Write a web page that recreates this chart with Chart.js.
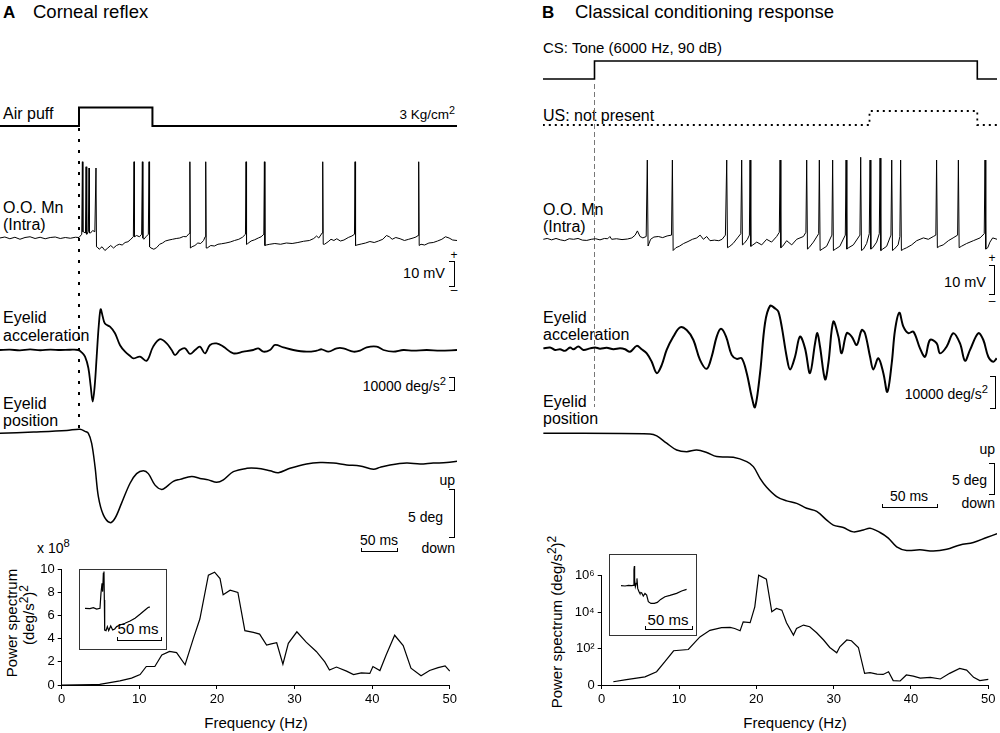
<!DOCTYPE html>
<html>
<head>
<meta charset="utf-8">
<script src="https://cdn.jsdelivr.net/npm/chart.js@4.4.0/dist/chart.umd.min.js"></script>
<style>
  body { margin: 0; background: #fff; }
  #fig { position: relative; width: 1000px; height: 733px; overflow: hidden; background: #fff;
         font-family: "Liberation Sans", Arial, sans-serif; color: #000; }
  #fig canvas { position: absolute; }
  .t { position: absolute; font-size: 16px; line-height: 1; white-space: nowrap; transform: translateY(-50%); }
  .r { transform: translate(-100%, -50%); }
  .c { transform: translate(-50%, -50%); }
  .sm { font-size: 14px; }
  .s { font-size: 0.8em; position: relative; top: -0.5em; }
  .rot { transform: translate(-50%, -50%) rotate(-90deg); font-size: 15px; }
  .brk { position: absolute; border: 1px solid #000; border-left: none; width: 5px; }
  .msbar { position: absolute; border: 1px solid #000; border-top: none; height: 3px; }
  .box { position: absolute; border: 1px solid #333; }
</style>
</head>
<body>
<div id="fig">
  <!-- titres -->
  <div class="t" style="left:3px;top:12px;font-weight:bold;font-size:17px">A</div>
  <div class="t" style="left:33px;top:12px;font-size:18.5px">Corneal reflex</div>
  <div class="t" style="left:542px;top:12px;font-weight:bold;font-size:17px">B</div>
  <div class="t" style="left:575px;top:12px;font-size:18.5px">Classical conditioning response</div>

  <!-- A : libellés -->
  <div class="t" style="left:3px;top:114px">Air puff</div>
  <div class="t r" style="left:455px;top:115px;font-size:13.5px">3 Kg/cm<span class="s">2</span></div>
  <div class="t" style="left:3px;top:208px">O.O. Mn</div>
  <div class="t" style="left:3px;top:225px">(Intra)</div>
  <div class="t r" style="left:445px;top:273px;font-size:14.5px">10 mV</div>
  <div class="t c" style="left:454px;top:255px;font-size:12px">+</div>
  <div class="t c" style="left:454px;top:290px;font-size:12px">–</div>
  <div class="brk" style="left:449px;top:261px;height:24px"></div>
  <div class="t" style="left:3px;top:318px">Eyelid</div>
  <div class="t" style="left:3px;top:336px">acceleration</div>
  <div class="t r sm" style="left:446px;top:386px">10000 deg/s<span class="s">2</span></div>
  <div class="brk" style="left:449px;top:377px;height:12px"></div>
  <div class="t" style="left:3px;top:404px">Eyelid</div>
  <div class="t" style="left:3px;top:421px">position</div>
  <div class="t r sm" style="left:455px;top:480px">up</div>
  <div class="t r sm" style="left:443px;top:517px">5 deg</div>
  <div class="t r sm" style="left:455px;top:548px">down</div>
  <div class="brk" style="left:449px;top:489px;height:47px"></div>
  <div class="t c sm" style="left:379px;top:540px">50 ms</div>
  <div class="msbar" style="left:361px;top:548px;width:35px"></div>
  <div class="t sm" style="left:37px;top:548px">x 10<span class="s">8</span></div>
  <div class="t rot" style="left:11px;top:623px">Power spectrum</div>
  <div class="t rot" style="left:28px;top:615px">(deg/s<span class="s">2</span>)<span class="s">2</span></div>
  <div class="t c" style="left:256px;top:722px;font-size:15px">Frequency (Hz)</div>
  <div class="box" style="left:79px;top:569px;width:86px;height:79px"></div>
  <div class="t c" style="left:138px;top:628px;font-size:15px">50 ms</div>
  <div class="msbar" style="left:117px;top:637px;width:43px"></div>
  <div style="position:absolute;left:78px;top:128px;width:2px;height:305px;
       background:repeating-linear-gradient(to bottom,#000 0 3px,transparent 3px 11px)"></div>

  <!-- B : libellés -->
  <div class="t" style="left:543px;top:47px;font-size:15px">CS: Tone (6000 Hz, 90 dB)</div>
  <div class="t" style="left:543px;top:116px">US: not present</div>
  <div class="t" style="left:543px;top:210px">O.O. Mn</div>
  <div class="t" style="left:543px;top:227px">(Intra)</div>
  <div class="t r" style="left:986px;top:282px;font-size:14.5px">10 mV</div>
  <div class="t c" style="left:992px;top:258px;font-size:12px">+</div>
  <div class="t c" style="left:992px;top:301px;font-size:12px">–</div>
  <div class="brk" style="left:989px;top:265px;height:28px"></div>
  <div class="t" style="left:543px;top:318px">Eyelid</div>
  <div class="t" style="left:543px;top:335px">acceleration</div>
  <div class="t r sm" style="left:988px;top:394px">10000 deg/s<span class="s">2</span></div>
  <div class="brk" style="left:990px;top:376px;height:31px"></div>
  <div class="t" style="left:543px;top:402px">Eyelid</div>
  <div class="t" style="left:543px;top:419px">position</div>
  <div class="t r sm" style="left:995px;top:449px">up</div>
  <div class="t r sm" style="left:987px;top:480px">5 deg</div>
  <div class="t r sm" style="left:995px;top:503px">down</div>
  <div class="brk" style="left:989px;top:463px;height:30px"></div>
  <div class="t c sm" style="left:909px;top:496px">50 ms</div>
  <div class="msbar" style="left:882px;top:504px;width:54px"></div>
  <div class="t rot" style="left:556px;top:622px">Power spectrum (deg/s<span class="s">2</span>)<span class="s">2</span></div>
  <div class="t c" style="left:795px;top:722px;font-size:15px">Frequency (Hz)</div>
  <div class="box" style="left:609px;top:554px;width:86px;height:80px"></div>
  <div class="t c" style="left:668px;top:619px;font-size:15px">50 ms</div>
  <div class="msbar" style="left:645px;top:626px;width:46px"></div>
  <div style="position:absolute;left:594px;top:84px;width:1px;height:323px;
       background:repeating-linear-gradient(to bottom,#777 0 5px,transparent 5px 8px)"></div>
</div>

<script>
// ---- A : réflexe cornéen (temps en ms depuis le début du souffle) ----
var puffA_t = [-110, 0, 0, 102, 102, 525];
var puffA_v = [0, 0, 1, 1, 0, 0];

var intraA_t = [-110, -103, -96, -89, -82, -75, -68, -61, -54, -47, -40, -33, -26, -19, -12, -5, 0, 3.8, 6, 9, 11, 13, 16, 19, 22,
  25, 28, 32, 36, 40, 44, 48, 52, 56, 60, 64, 68, 72, 75.5, 80, 84, 87, 90, 93, 96.3, 100, 104, 108, 112, 116, 120, 125, 130,
  135, 140, 145, 149, 153, 157, 161, 165, 169, 173, 175.2, 178, 183, 188, 193, 198, 204, 210, 216, 222, 227, 231.2, 234, 239,
  244, 249, 253, 256.7, 260, 265, 272, 280, 288, 296, 304, 312, 320, 326, 330, 333, 337.7, 341, 346, 350, 354, 358, 363, 368,
  374, 379, 382.6, 386, 392, 398, 404, 410, 416, 422, 427, 431, 435, 440, 446, 452, 458, 464, 468, 471, 475, 480, 486, 492,
  498, 504, 509, 514, 519, 525];
var intraA_v = [0, 0.4, -0.3, 0.3, -0.5, 0.2, 0.5, -0.2, 0.3, -0.3, 0.2, 0.4, -0.2, 0.2, -0.1, 0.3, 0.2, 1.5, 2.5, 2, 1.5, 2.5, 2, 3, 2.5,
  -3.5, -4.5, -3.5, -5, -4, -3, -4, -3, -2.5, -2.8, -1.8, -1.5, -0.5, 0.5, 1, 0.5, 1.5, -0.5, 0.5, 1.5, -4, -4.5, -3.8, -2.5, -2, -1.2, -0.8, -0.5,
  -0.2, 0, 0.6, 0.5, 1.8, -3.5, -3, -2, -2.2, -1, 0.5, -4, -3, -3.2, -2.5, -2.3, -2, -1.6, -1, -0.5, 0.3, 1.5, -2.3, -1.2,
  -0.7, 0, 0.5, 1.5, -2.8, -2.5, -2.2, -2.5, -2, -2.2, -1.8, -1.3, -1, -0.2, 0.8, 0, 2, -2.5, -1.5, -0.5, -1, -0.3, -1.2, -0.8,
  0.2, 0.8, 1.5, -2.8, -2.4, -2, -1.4, -1.8, -1.2, -0.5, 1, 0.5, -0.5, 0.2, -0.3, -1, -0.5, 0, 0.4, 1, -2.5, -2.8, -2, -1.8,
  -1.2, -0.5, 0.5, 0, -0.8, -1];
var spikeA_t = [4.7, 9.8, 13.9, 23.6, 76.4, 88, 97.3, 154, 176, 232, 257.5, 338.5, 383.4, 471.8];
var spikeA_peak = [30.5, 28.5, 28, 28, 30.5, 30.5, 30.5, 30.5, 30.5, 30.5, 30.5, 30.5, 30.5, 30.5];
var spikeA_post = [2.5, 1.5, 2, -3.5, 0.5, 0, -3.5, -4, -4, -2.5, -3, -2.5, -3, -3];

var accA_t = [-110, -96, -82, -68, -54, -40, -26, -12.5, -1, 3.7, 8.4, 13, 16.2, 19, 21.8, 24.6, 27.4, 30.1, 32.9, 36, 43, 50, 57,
  64, 71, 75.5, 84.8, 94, 103, 112.5, 121.8, 128.7, 133.4, 140.3, 147.3, 154.2, 161.2, 168, 175, 182, 191, 200.5, 214.4, 228.3,
  242, 249, 256, 265.3, 272.3, 283.8, 297.7, 316, 330, 337, 346.4, 358, 367, 381, 390.3, 399.6, 413.5, 422.8, 436.6, 450.5,
  464.4, 483, 501.5, 525];
var accA_v = [0, 0.3, -0.3, 0.5, -0.2, 0.3, 0, 0.2, 0, -2, -5.5, -15, -30, -43, -30, -5, 20, 34, 28, 22, 19.4, 14, 4,
  -1.4, -5, -7, -5.5, -9, 2.8, 9, 5.5, 0, -4.2, 0, 1.4, -3.3, 0, 2.8, -2.8, 4.2, 5.5, 2.8, -2.8, -1.4,
  0, 1.4, -1.4, 0, 4.2, 2.2, 0, -1.4, -0.6, 0.6, -1.4, 1.4, 1.4, -1.4, -0.6, 2.2, 2.8, 0, -1.4, 0,
  -0.6, 0, -0.6, 0];

var posA_t = [-110, -63, -17, 1.4, 8.4, 13, 17.6, 22.3, 26.9, 33.8, 43, 50, 59, 70.9, 80, 89.4, 96.3, 105.6, 114.9, 121.8, 131,
  140.3, 156.5, 168, 179.7, 191.2, 200.5, 214.4, 233, 246.8, 265.3, 276.9, 293, 316, 334.8, 353.3, 371.8, 390.3, 408.9,
  418, 432, 455, 473.7, 492, 510.7, 525];
var posA_v = [0, 0.14, 0.3, 0.42, 0.2, 0, -1.04, -3.5, -6.6, -8.5, -9.3, -8.85, -7.3, -5.2, -4.2, -3.9, -4.2, -5.4, -5.85, -5.55, -5,
  -4.8, -4.5, -4.7, -4.85, -5.1, -4.85, -4, -3.65, -3.65, -3.9, -4.1, -3.65, -3.2, -3.05, -3.1, -3.3, -3.4, -3.75,
  -3.55, -3.3, -3.1, -3.2, -3.1, -3.05, -2.9];

var specA_hz = [0, 2, 4, 4.9, 6.2, 7.5, 9, 10.1, 10.9, 12, 12.9, 13.9, 14.8, 15.9, 17, 17.8, 18.9, 19.7, 20.4, 20.8, 21.7, 22.7,
  23.6, 24.7, 25.5, 26.4, 27, 27.7, 28.5, 29.2, 30.3, 31.5, 32.8, 33.9, 34.5, 35.4, 36.7, 37.6, 38.6, 39.7, 40.1, 41, 41.8,
  42.9, 44, 45, 46.3, 47.4, 48.5, 49.4, 50];
var specA_val = [0, 0.01, 0.04, 0.06, 0.2, 0.35, 0.6, 0.9, 1.6, 1.6, 2.6, 2.9, 2.8, 1.75, 4.1, 5.7, 9.5, 9.75, 9.2, 7.8, 8.2, 8.0,
  4.7, 4.55, 4.4, 3.45, 3.55, 3.65, 1.8, 3.6, 4.6, 3.7, 2.9, 2.0, 1.3, 1.55, 1.2, 0.9, 1.05, 1.0, 1.6, 1.25, 2.6,
  4.3, 3.4, 1.45, 0.8, 1.25, 1.5, 1.65, 1.2];
var specA_ticksY = [0, 2, 4, 6, 8, 10];

var insetA_t = [0, 5.6, 9.4, 13.2, 16.9, 18, 19.2, 19.9, 20.7, 21.4, 21.8, 22.2, 23.7, 25.2, 26.7, 29, 31.2, 33.5, 35.7, 39.5,
  45.1, 50.8, 56.4, 62, 67.7, 71.4, 73.3];
var insetA_v = [0, -0.3, 0.7, -0.7, 0, 15, 25, 16.7, 35, 36.7, 8.3, -21.7, -22.3, -18.3, -22.3, -17.7, -21.7, -20.7, -18.3, -16.7,
  -15, -12.7, -10, -6, -1.7, 1, 1.3];

// ---- B : réponse conditionnée (temps en ms depuis le début du son) ----
var toneB_t = [-47, 0, 0, 348, 348, 366];
var toneB_v = [0, 0, 1, 1, 0, 0];
var usB_t = [-47, 250, 250, 348, 348, 366];
var usB_v = [0, 0, 1, 1, 0, 0];

var intraB_t = [-46.5, -43, -39, -35, -31, -27, -23, -19, -15, -11, -7, -3, 1, 5, 9, 12, 14, 15.6, 20, 25, 30, 34, 37, 39, 41.4,
  44, 47, 51, 54, 58, 62, 66, 70, 74, 77, 81, 85, 89, 93, 96, 99, 102, 105, 109, 113, 116, 119, 123, 126, 130, 133, 136,
  139, 140.8, 144, 147.5, 152, 156.5, 161, 165.6, 168, 171, 174.7, 179.3, 183.8, 189.9, 192.2, 195, 199, 203.8, 207,
  211, 215.8, 219, 223, 228, 231, 235.3, 241.3, 244.5, 247.4, 249.8, 253, 256.5, 258.9, 262, 265.6, 269.5, 272.5,
  276, 277.6, 281, 283.8, 288.3, 292.9, 299, 303.5, 308, 310.3, 313.5, 317, 321.7, 326, 330.1, 333.5, 338.3, 344.4,
  350.5, 354.3, 357.5, 359.5, 362, 366];
var intraB_v = [0, 0.3, -0.2, 0.3, -0.2, -0.5, 0.2, 0, 0.3, -0.3, -0.4, 0, 0.2, -0.2, 0.3, 0.2, 1, 0, 0.2, -0.1, 0.1, 0.5, 1.5, 3, 1,
  0.5, 1, 0, 0.8, 1, 0.6, 1.2, 1.5, -3, -2.5, -1.5, -0.8, 0, 0.5, 1.5, 0, 1, -0.5, -0.3, -0.5, 0, 1.5, -2.5, -1.5, 0.5, 2, -1.5,
  0, 1.5, -2, -1, -2, 0, -1, 1, 2.5, -2.5, -0.5, -2, 0, 1, 2.5, -3, -1, 2, -3.5,
  -2.5, 1.5, -3.5, -2.5, 1.5, -3, -2, 1.5, -3.5, -1.5, 2, -3, -1, 2, -3.5, -2.5, 1.5, -3.5,
  -2, 1, -3.5, -3, -2, -0.5, 0.5, 0, 1, 1.5, -2.5, -2, -0.5, 0.5, 1.5, -2.5, -1.5, -0.5,
  0.5, 2, -3, -1, 0.5, 0];
var spikeB_t = [48, 70.8, 120.2, 133.8, 141.4, 168.7, 192.9, 204.4, 216.5, 228.7, 242, 250.5, 259.6, 270.2, 278.3, 311, 330.8, 355];
var spikeB_peak = [28.3, 28.3, 28.3, 28.3, 28.3, 28.3, 28.3, 28.3, 28.3, 28.3, 29.3, 28.3, 29, 28.3, 28.3, 28.3, 28.3, 28.3];
var spikeB_post = [-2.4, -4, -3, -2, -2.5, -3, -3.5, -4, -4, -3.5, -4, -3.5, -4, -4, -4, -3, -3, -3.5];

var accB_t = [-46.5, -40.4, -35.9, -31.3, -26.8, -22.2, -19.2, -14.7, -10.1, -4, 0.5, 5, 11.1, 17.2, 23.2, 27.8, 32.3, 38.4, 42.9,
  47.5, 52, 56.6, 61.1, 65.6, 71.7, 77.8, 83.8, 89.9, 95.9, 102, 106.5, 111.1, 115, 119.6, 124.7, 129.3, 133.8, 138.4,
  142.9, 145.9, 150.5, 155, 159.6, 164.1, 167.1, 170.2, 174.7, 177.8, 182.3, 186.8, 191.4, 195.9, 200.5, 202.6, 205,
  209.6, 212.6, 217.1, 221.7, 224.7, 229.3, 233.8, 238.4, 242.9, 245.9, 250.5, 253.5, 258, 262.6, 266.2, 270.2, 273.2,
  277.1, 280.8, 285.3, 289.9, 295.9, 300.5, 305, 311.1, 314.1, 320.2, 326.2, 332.3, 336.8, 341.4, 348.9, 353.5, 358,
  362.6, 365.6];
var accB_v = [0.3, 0.6, -0.2, 0, -0.5, 0.6, 0, 0.9, -0.2, 0.3, 0.6, 0.2, 0.5, 0, 0.3, 0, -0.8, 1.1, 0,
  -1.3, -4, -7.7, -5.1, -0.2, 4.1, 7.1, 6.2, 3, -3.4, -6.3, -2.4, 4.1, 6.6, 4.1, -1.8, -3.1, -2.9, -7.7,
  -15.3, -18.7, -7.7, 8.4, 14, 13.2, 12.2, 7.3, -2.4, -6.5, -2.4, 4.1, 0.3, -7.7, 1.9, 5.2, 0.9,
  -9.7, -4.5, 8.9, 4.1, -1.3, 5.2, 4.1, 1.4, 6.2, 5.2, -2.4, -6.5, -2.9, -7.7, -13.7, -4.5, 6.2,
  11.8, 7.3, 5.2, 5.7, 0.3, -2.4, 3, 1.9, -1.3, 0.9, 5.2, 1.9, -3.7, -0.2, 5.2, 3, -2.4,
  -4, -2.9];

var posB_t = [-46.5, 50.5, 56.6, 65.6, 74.7, 83.8, 92.9, 102, 111.1, 126.2, 138.4, 144.4, 150.5, 156.5, 165.6, 174.7, 183.8,
  192.9, 202, 211.1, 217.1, 226.2, 235.3, 244.4, 250.5, 259.6, 267.1, 274.7, 283.8, 295.9, 308, 320.2, 332.3, 344.4,
  356.5, 366];
var posB_v = [0, -0.1, -0.43, -1.6, -2.7, -2.96, -2.7, -3.1, -3.76, -3.87, -4.57, -5.38, -7.26, -8.7, -10.2, -10.9, -11.3,
  -12.1, -12.6, -14, -14.8, -15.2, -15.9, -15.6, -15.3, -16, -16.9, -18.3, -18.9, -18.8, -19, -18.7, -18, -17.6,
  -16.8, -16.2];

// spectre B : exposants (log10 de la puissance)
var specB_hz = [1.5, 3.2, 5.6, 7.1, 8.2, 9.3, 11.2, 12.7, 14, 15.5, 16.6, 17.2, 17.9, 18.3, 19.2, 19.8, 20.3, 21.3, 22, 22.6, 23.3,
  23.9, 24.8, 25.2, 26.1, 26.9, 27.8, 28.7, 29.5, 30.4, 30.8, 31.7, 32.3, 33.2, 34, 34.7, 35.6, 36.4, 37.1, 37.7, 38.6,
  39.4, 40.3, 41.2, 42.5, 43.8, 45, 46.3, 47.2, 48.1, 48.9, 50];
var specB_log = [0.18, 0.3, 0.45, 0.73, 1.3, 1.88, 1.95, 2.64, 3.0, 3.15, 3.16, 3.1, 2.98, 3.47, 3.42, 4.29, 6.03, 5.81, 4.02, 4.2, 4.11,
  3.42, 2.74, 3.1, 3.29, 3.2, 2.87, 2.47, 2.06, 1.77, 2.1, 2.47, 2.43, 2.06, 0.64, 0.68, 0.6, 0.58, 0.73, 0.24, 0.22,
  0.55, 0.49, 0.38, 0.42, 0.33, 0.64, 0.91, 0.82, 0.42, 0.24, 0.31];
var specB_ticksY = [1, 100, 10000, 1000000];
var specB_tickLbl = ['0', '10²', '10⁴', '10⁶'];

var insetB_t = [0, 4.3, 7.9, 11.4, 13.2, 13.9, 14.3, 14.6, 15.4, 16.4, 17.1, 17.9, 19.3, 20.3, 22.1, 23.9, 25.7, 27.5, 29.3, 32.1,
  35.7, 38.9, 42.5, 47.1, 52.5, 59.6, 65, 70.3];
var insetB_v = [0, -0.3, 0.3, 0, 0.3, 15.7, 19.7, 5.7, -1, 2.3, 7.3, -2.7, -6, -7.7, -7, -10.3, -7.7, -9.3, -16, -17.7,
  -17.7, -16.7, -13.7, -11, -9.7, -7.7, -5.3, -3.7];

var freqTicks = [0, 10, 20, 30, 40, 50];

// ---- outils ----
var fig = document.getElementById('fig');
var FONT = '"Liberation Sans", Arial, sans-serif';

function addCanvas(l, t, w, h) {
  var c = document.createElement('canvas');
  c.width = w; c.height = h;
  c.style.left = l + 'px'; c.style.top = t + 'px';
  fig.appendChild(c);
  return c;
}

function pts(xs, ys) {
  return xs.map(function (x, i) { return { x: x, y: ys[i] }; });
}

// insère les potentiels d'action dans la ligne de base
function withSpikes(bt, bv, st, sp, spost) {
  var p = pts(bt, bv);
  st.forEach(function (t, i) {
    p.push({ x: t, y: sp[i] });
    p.push({ x: t + 0.7, y: spost[i] });
  });
  p.sort(function (a, b) { return a.x - b.x; });
  return p;
}

// trace sans axes : box = [left, top, width, height], x0/y0 = pixel du zéro, ppx/ppy = pixels par unité
function trace(box, x0, ppx, y0, ppy, sets) {
  var c = addCanvas(box[0], box[1], box[2], box[3]);
  new Chart(c, {
    type: 'scatter',
    data: {
      datasets: sets.map(function (s) {
        return Object.assign({ showLine: true, borderColor: '#000', borderWidth: 1, pointRadius: 0, clip: false, tension: 0 }, s);
      })
    },
    options: {
      responsive: false, animation: false, events: [],
      layout: { padding: 0 },
      plugins: { legend: { display: false }, tooltip: { enabled: false } },
      scales: {
        x: { type: 'linear', display: false, min: (box[0] - x0) / ppx, max: (box[0] + box[2] - x0) / ppx },
        y: { type: 'linear', display: false, min: -(box[1] + box[3] - y0) / ppy, max: (y0 - box[1]) / ppy }
      }
    }
  });
}

function axisOpts(extra) {
  return Object.assign({
    ticks: { color: '#000', font: { family: FONT, size: 13 }, padding: 3, maxRotation: 0, autoSkip: false },
    grid: { drawOnChartArea: false, color: '#000', tickLength: 4, lineWidth: 1 },
    border: { color: '#000', width: 1 }
  }, extra);
}

function spectrum(box, pad, yW, xH, data, xOpts, yOpts) {
  var c = addCanvas(box[0], box[1], box[2], box[3]);
  new Chart(c, {
    type: 'scatter',
    data: { datasets: [{ data: data, showLine: true, borderColor: '#000', borderWidth: 1.2, pointRadius: 0, clip: false, tension: 0 }] },
    options: {
      responsive: false, animation: false, events: [],
      layout: { padding: pad },
      plugins: { legend: { display: false }, tooltip: { enabled: false } },
      scales: {
        x: Object.assign(axisOpts(xOpts), { afterFit: function (s) { s.height = xH; } }),
        y: Object.assign(axisOpts(yOpts), { afterFit: function (s) { s.width = yW; } })
      }
    }
  });
}

function fixedTicks(list) {
  return function (s) { s.ticks = list.map(function (v) { return { value: v }; }); };
}

// ---- A ----
var xA0 = 79, pxA = 0.72;
trace([0, 100, 457, 32], xA0, pxA, 126, 18.5, [{ data: pts(puffA_t, puffA_v), borderWidth: 2 }]);
trace([0, 150, 457, 110], xA0, pxA, 238, 2.5,
  [{ data: withSpikes(intraA_t, intraA_v, spikeA_t, spikeA_peak, spikeA_post), borderWidth: 1 }]);
trace([0, 300, 457, 110], xA0, pxA, 350, 1.2, [{ data: pts(accA_t, accA_v), borderWidth: 1.8, tension: 0.35 }]);
trace([0, 420, 457, 120], xA0, pxA, 433.3, 9.6, [{ data: pts(posA_t, posA_v), borderWidth: 1.5, tension: 0.35 }]);
trace([81, 571, 83, 76], 85, 0.887, 608.3, 1, [{ data: pts(insetA_t, insetA_v), borderWidth: 1.2 }]);

spectrum([20, 555, 440, 160], { top: 14.3, right: 10, left: 0, bottom: 0 }, 41.7, 30,
  pts(specA_hz, specA_val),
  { type: 'linear', min: 0, max: 50, afterBuildTicks: fixedTicks(freqTicks) },
  { type: 'linear', min: 0, max: 10, afterBuildTicks: fixedTicks(specA_ticksY) });

// ---- B ----
var xB0 = 594.5, pxB = 1.1;
trace([543, 55, 454, 30], xB0, pxB, 79, 18, [{ data: pts(toneB_t, toneB_v), borderWidth: 1.6 }]);
trace([543, 104, 454, 26], xB0, pxB, 125, 14, [{ data: pts(usB_t, usB_v), borderWidth: 1.8, borderDash: [2, 4] }]);
trace([543, 150, 454, 110], xB0, pxB, 239.3, 2.8,
  [{ data: withSpikes(intraB_t, intraB_v, spikeB_t, spikeB_peak, spikeB_post), borderWidth: 1 }]);
trace([543, 290, 454, 125], xB0, pxB, 349.3, 3.1, [{ data: pts(accB_t, accB_v), borderWidth: 2, tension: 0.35 }]);
trace([543, 420, 454, 140], xB0, pxB, 433.3, 6.2, [{ data: pts(posB_t, posB_v), borderWidth: 1.5, tension: 0.35 }]);
trace([611, 556, 83, 77], 621, 0.933, 585.7, 1, [{ data: pts(insetB_t, insetB_v), borderWidth: 1.2 }]);

spectrum([560, 560, 440, 155], { top: 15.7, right: 11.7, left: 0, bottom: 0 }, 41.7, 30,
  pts(specB_hz, specB_log.map(function (e) { return Math.pow(10, e); })),
  { type: 'linear', min: 0, max: 50, afterBuildTicks: fixedTicks(freqTicks) },
  { type: 'logarithmic', min: 1, max: 1000000, afterBuildTicks: fixedTicks(specB_ticksY),
    ticks: { color: '#000', font: { family: FONT, size: 13 }, padding: 3, autoSkip: false,
      callback: function (v) { var i = specB_ticksY.indexOf(v); return i < 0 ? '' : specB_tickLbl[i]; } } });
</script>
</body>
</html>
